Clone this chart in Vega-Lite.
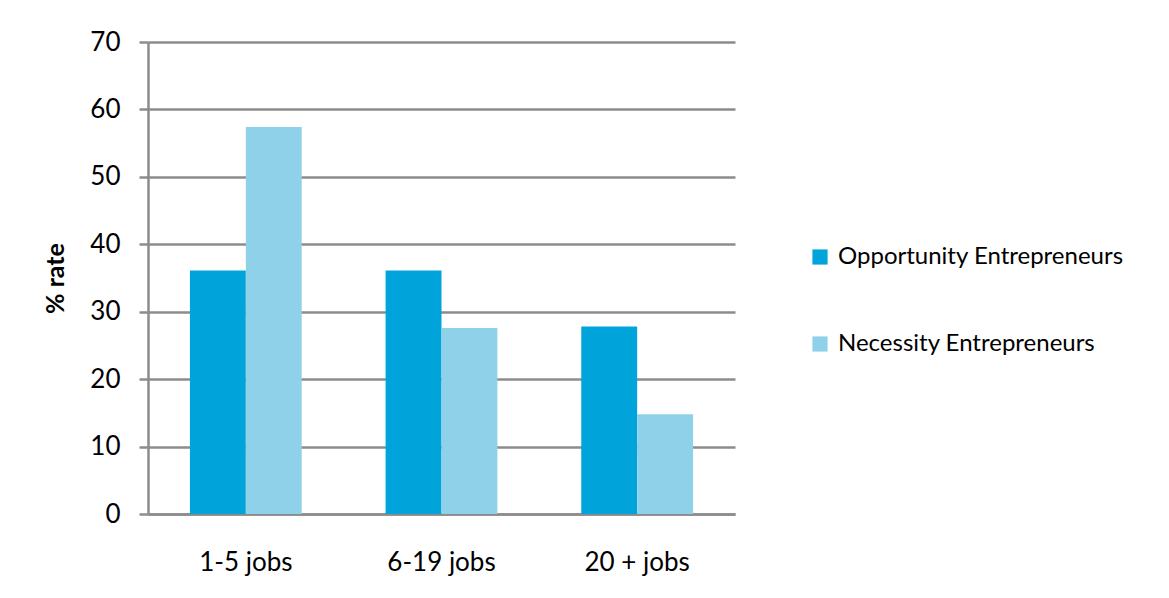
{
  "$schema": "https://vega.github.io/schema/vega-lite/v6.json",
  "autosize": "none",
  "width": 587,
  "height": 472,
  "padding": {"left": 148, "top": 42, "right": 434, "bottom": 84},
  "background": "white",
  "config": {
    "font": "Lato",
    "view": {"stroke": null},
    "axis": {"labelFont": "Lato", "titleFont": "Lato"}
  },
  "data": {
    "values": [
      {"category": "1-5 jobs", "type": "Opportunity Entrepreneurs", "rate": 36.1},
      {"category": "1-5 jobs", "type": "Necessity Entrepreneurs", "rate": 57.4},
      {"category": "6-19 jobs", "type": "Opportunity Entrepreneurs", "rate": 36.1},
      {"category": "6-19 jobs", "type": "Necessity Entrepreneurs", "rate": 27.6},
      {"category": "20 + jobs", "type": "Opportunity Entrepreneurs", "rate": 27.8},
      {"category": "20 + jobs", "type": "Necessity Entrepreneurs", "rate": 14.8}
    ]
  },
  "mark": {"type": "bar"},
  "encoding": {
    "x": {
      "field": "category",
      "type": "nominal",
      "sort": ["1-5 jobs", "6-19 jobs", "20 + jobs"],
      "scale": {"paddingInner": 0.4286, "paddingOuter": 0.2143},
      "axis": {
        "title": null,
        "labelAngle": 0,
        "labelFontSize": 26,
        "labelColor": "#000000",
        "labelPadding": 35,
        "ticks": false,
        "domainColor": "#8c8c8c",
        "domainWidth": 2.5
      }
    },
    "xOffset": {
      "field": "type",
      "type": "nominal",
      "sort": ["Opportunity Entrepreneurs", "Necessity Entrepreneurs"],
      "scale": {"paddingInner": 0, "paddingOuter": 0}
    },
    "y": {
      "field": "rate",
      "type": "quantitative",
      "scale": {"domain": [0, 70], "nice": false},
      "axis": {
        "title": "% rate",
        "titleFontSize": 25,
        "titleFontWeight": "bold",
        "titleColor": "#000000",
        "titlePadding": 21,
        "values": [0, 10, 20, 30, 40, 50, 60, 70],
        "labelFontSize": 26,
        "labelColor": "#000000",
        "labelPadding": 19,
        "tickSize": 9,
        "tickColor": "#8c8c8c",
        "tickWidth": 2.5,
        "domainColor": "#8c8c8c",
        "domainWidth": 2.5,
        "grid": true,
        "gridColor": "#8c8c8c",
        "gridWidth": 2.5
      }
    },
    "color": {
      "field": "type",
      "type": "nominal",
      "sort": ["Opportunity Entrepreneurs", "Necessity Entrepreneurs"],
      "scale": {"range": ["#00A4DB", "#90D1EA"]},
      "legend": {
        "title": null,
        "orient": "none",
        "legendX": 660,
        "legendY": 203,
        "symbolType": "square",
        "symbolSize": 230,
        "symbolStrokeWidth": 0,
        "labelFontSize": 24,
        "labelLimit": 500,
        "labelColor": "#000000",
        "labelOffset": 6,
        "rowPadding": 63
      }
    }
  }
}
